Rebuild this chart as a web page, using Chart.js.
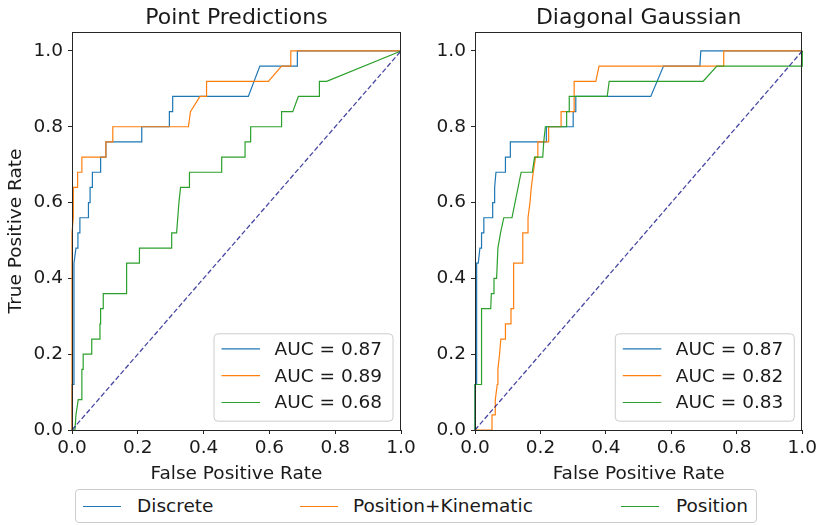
<!DOCTYPE html>
<html>
<head>
<meta charset="utf-8">
<script src="https://cdn.jsdelivr.net/npm/chart.js@4.4.0/dist/chart.umd.min.js"></script>
<style>
  html, body { margin: 0; padding: 0; background: #fff; }
  body { width: 820px; height: 525px; overflow: hidden; position: relative; font-family: "DejaVu Sans", sans-serif; }
  #c1 { position: absolute; left: 0; top: 0; }
  #c2 { position: absolute; left: 410px; top: 0; }
  #legend { position: absolute; left: 75px; top: 489px; width: 682px; height: 34px; box-sizing: border-box;
            border: 1px solid #cccccc; border-radius: 4px; background: rgba(255,255,255,0.8); }
  .item { position: absolute; top: 0; height: 32px; line-height: 32px; font-size: 18.5px; color: #1a1a1a; white-space: nowrap; }
  .swatch { position: absolute; height: 1.2px; top: 16px; }
</style>
</head>
<body>
<canvas id="c1" width="420" height="487"></canvas>
<canvas id="c2" width="410" height="487"></canvas>
<div id="legend"></div>
<script>
// ---------------- data ----------------
const seriesNames = ['Discrete', 'Position+Kinematic', 'Position'];
const panelTitles = ['Point Predictions', 'Diagonal Gaussian'];
const xTickValues = [0, 0.2, 0.4, 0.6, 0.8, 1.0];
const yTickValues = [0, 0.2, 0.4, 0.6, 0.8, 1.0];
const ppAucLabels = ['AUC = 0.87', 'AUC = 0.89', 'AUC = 0.68'];
const dgAucLabels = ['AUC = 0.87', 'AUC = 0.82', 'AUC = 0.83'];
const chanceFpr = [0, 1];
const chanceTpr = [0, 1];

// Point Predictions
const ppDiscreteFpr = [0,0,0.006,0.006,0.012,0.018,0.018,0.024,0.024,0.05,0.05,0.055,0.055,0.062,0.062,0.087,0.087,0.103,0.103,0.212,0.212,0.296,0.296,0.306,0.306,0.536,0.571,0.685,0.685,1];
const ppDiscreteTpr = [0,0.12,0.12,0.44,0.48,0.48,0.52,0.52,0.56,0.56,0.60,0.60,0.64,0.64,0.68,0.68,0.72,0.72,0.76,0.76,0.80,0.80,0.84,0.84,0.88,0.88,0.96,0.96,1,1];
const ppPosKinFpr = [0,0,0.004,0.004,0.017,0.017,0.03,0.03,0.103,0.103,0.124,0.124,0.354,0.36,0.389,0.409,0.409,0.597,0.637,0.665,0.665,1];
const ppPosKinTpr = [0,0.52,0.56,0.64,0.64,0.68,0.68,0.72,0.72,0.76,0.76,0.80,0.80,0.84,0.88,0.88,0.92,0.92,0.96,0.96,1,1];
const ppPositionFpr = [0,0.009,0.012,0.019,0.03,0.03,0.034,0.034,0.06,0.06,0.085,0.085,0.087,0.087,0.095,0.095,0.166,0.166,0.205,0.205,0.303,0.303,0.318,0.325,0.33,0.357,0.357,0.455,0.455,0.526,0.526,0.543,0.543,0.637,0.637,0.671,0.688,0.752,0.752,0.774,1];
const ppPositionTpr = [0,0,0.04,0.08,0.08,0.16,0.16,0.20,0.20,0.24,0.24,0.28,0.28,0.32,0.32,0.36,0.36,0.44,0.44,0.48,0.48,0.52,0.52,0.60,0.64,0.64,0.68,0.68,0.72,0.72,0.76,0.76,0.80,0.80,0.84,0.84,0.88,0.88,0.92,0.92,1];

// Diagonal Gaussian
const dgDiscreteFpr = [0,0,0.005,0.005,0.01,0.015,0.02,0.02,0.027,0.027,0.054,0.054,0.06,0.06,0.064,0.093,0.093,0.108,0.108,0.218,0.218,0.30,0.30,0.308,0.308,0.537,0.576,0.687,0.69,1];
const dgDiscreteTpr = [0,0.12,0.12,0.44,0.44,0.48,0.48,0.52,0.52,0.56,0.56,0.60,0.60,0.64,0.68,0.68,0.72,0.72,0.76,0.76,0.80,0.80,0.84,0.84,0.88,0.88,0.96,0.96,1,1];
const dgPosKinFpr = [0,0.052,0.052,0.062,0.062,0.068,0.07,0.075,0.079,0.093,0.093,0.11,0.11,0.118,0.118,0.146,0.146,0.162,0.162,0.168,0.172,0.178,0.185,0.192,0.192,0.225,0.225,0.263,0.263,0.303,0.303,0.369,0.379,0.76,0.76,1];
const dgPosKinTpr = [0,0,0.04,0.04,0.08,0.12,0.16,0.20,0.24,0.24,0.28,0.28,0.32,0.32,0.44,0.44,0.52,0.52,0.56,0.60,0.64,0.68,0.72,0.72,0.76,0.76,0.80,0.80,0.84,0.84,0.92,0.92,0.96,0.96,1,1];
const dgPositionFpr = [0,0,0.02,0.02,0.048,0.05,0.058,0.058,0.066,0.07,0.078,0.088,0.113,0.141,0.175,0.182,0.207,0.21,0.215,0.28,0.28,0.288,0.288,0.404,0.41,0.697,0.739,1,1];
const dgPositionTpr = [0,0.12,0.12,0.32,0.32,0.36,0.36,0.40,0.40,0.48,0.52,0.56,0.56,0.68,0.68,0.72,0.72,0.76,0.80,0.80,0.84,0.84,0.88,0.88,0.92,0.92,0.96,0.96,1];

// ---------------- styling ----------------
const FONT = '"DejaVu Sans", sans-serif';
const TEXT = '#1a1a1a';
const seriesColors = ['#1f77b4', '#ff7f0e', '#2ca02c'];
const chanceColor = 'rgba(0,0,128,0.72)';

function pts(xs, ys) { return xs.map((x, i) => ({ x: x, y: ys[i] })); }

const framePlugin = {
  id: 'frame',
  afterDatasetsDraw(chart) {
    const a = chart.chartArea, ctx = chart.ctx;
    ctx.save();
    ctx.strokeStyle = '#262626';
    ctx.lineWidth = 1;
    ctx.strokeRect(Math.round(a.left) + 0.5, Math.round(a.top) + 0.5, Math.round(a.right - a.left) - 1, Math.round(a.bottom - a.top));
    ctx.restore();
  }
};

const aucLegendPlugin = {
  id: 'aucLegend',
  afterDraw(chart, args, opts) {
    const a = chart.chartArea, ctx = chart.ctx;
    const w = 179, h = 87.4;
    const left = a.right - 8.5 - w, top = a.bottom - 9.3 - h;
    ctx.save();
    ctx.beginPath();
    if (ctx.roundRect) ctx.roundRect(left + 0.5, top + 0.5, w, h, 4); else ctx.rect(left + 0.5, top + 0.5, w, h);
    ctx.fillStyle = 'rgba(255,255,255,0.8)';
    ctx.fill();
    ctx.strokeStyle = '#cccccc';
    ctx.lineWidth = 1;
    ctx.stroke();
    ctx.font = '18.5px ' + FONT;
    ctx.textBaseline = 'middle';
    ctx.fillStyle = TEXT;
    opts.labels.forEach((lab, i) => {
      const cy = top + 15.6 + i * 26.8;
      ctx.beginPath();
      ctx.strokeStyle = opts.colors[i];
      ctx.lineWidth = 1.2;
      ctx.moveTo(left + 8, cy);
      ctx.lineTo(left + 46.5, cy);
      ctx.stroke();
      ctx.fillText(lab, left + 61, cy + 1);
    });
    ctx.restore();
  }
};

function makeChart(canvasId, title, series, aucLabels, showYTitle, yWidth, rightPad) {
  const datasets = series.map((s, i) => ({
    label: seriesNames[i],
    data: pts(s[0], s[1]),
    borderColor: seriesColors[i],
    borderWidth: 1.2,
    pointRadius: 0,
    showLine: true,
    tension: 0,
    fill: false,
    clip: false,
    order: 5 - i
  }));
  datasets.push({
    label: 'chance',
    data: pts(chanceFpr, chanceTpr),
    borderColor: chanceColor,
    borderWidth: 1.3,
    borderDash: [5, 2.4],
    pointRadius: 0,
    showLine: true,
    fill: false,
    clip: false,
    order: 0
  });
  return new Chart(document.getElementById(canvasId), {
    type: 'scatter',
    data: { datasets: datasets },
    options: {
      responsive: false,
      animation: false,
      devicePixelRatio: 1,
      layout: { padding: { left: 0, right: rightPad, top: 0, bottom: 0 } },
      plugins: {
        legend: { display: false },
        tooltip: { enabled: false },
        title: {
          display: true, text: title, color: TEXT, fullSize: false,
          font: { family: FONT, size: 22, weight: 'normal', lineHeight: 1.2 },
          padding: { top: 4.6, bottom: 1 }
        },
        aucLegend: { labels: aucLabels, colors: seriesColors }
      },
      scales: {
        x: {
          type: 'linear', min: 0, max: 1,
          afterBuildTicks: s => { s.ticks = xTickValues.map(v => ({ value: v })); },
          afterFit: s => { s.height = 57; },
          border: { display: false },
          grid: { display: true, drawOnChartArea: false, drawTicks: true, tickLength: 4, color: '#262626', lineWidth: 1 },
          ticks: { color: TEXT, font: { family: FONT, size: 18.5 }, padding: 3, maxRotation: 0,
                   callback: v => Number(v).toFixed(1) },
          title: { display: true, text: 'False Positive Rate', color: TEXT,
                   font: { family: FONT, size: 18.5 }, padding: { top: 0, bottom: 2 } }
        },
        y: {
          type: 'linear', min: 0, max: 1.05,
          afterBuildTicks: s => { s.ticks = yTickValues.map(v => ({ value: v })); },
          afterFit: s => { s.width = yWidth; },
          border: { display: false },
          grid: { display: true, drawOnChartArea: false, drawTicks: true, tickLength: 4, color: '#262626', lineWidth: 1 },
          ticks: { color: TEXT, font: { family: FONT, size: 18.5 }, padding: 5,
                   callback: v => Number(v).toFixed(1) },
          title: { display: showYTitle, text: 'True Positive Rate', color: TEXT,
                   font: { family: FONT, size: 18.5 }, padding: { top: 5, bottom: 0 } }
        }
      }
    },
    plugins: [framePlugin, aucLegendPlugin]
  });
}

makeChart('c1', panelTitles[0], [
  [ppDiscreteFpr, ppDiscreteTpr],
  [ppPosKinFpr, ppPosKinTpr],
  [ppPositionFpr, ppPositionTpr]
], ppAucLabels, true, 72, 19);

makeChart('c2', panelTitles[1], [
  [dgDiscreteFpr, dgDiscreteTpr],
  [dgPosKinFpr, dgPosKinTpr],
  [dgPositionFpr, dgPositionTpr]
], dgAucLabels, false, 65, 15);

// shared legend (HTML)
const legendLayout = [
  { line: 7, text: 61 },
  { line: 224, text: 277 },
  { line: 545, text: 600 }
];
const lg = document.getElementById('legend');
seriesNames.forEach((n, i) => {
  const sw = document.createElement('div');
  sw.className = 'swatch';
  sw.style.left = legendLayout[i].line + 'px';
  sw.style.width = '38px';
  sw.style.background = seriesColors[i];
  lg.appendChild(sw);
  const t = document.createElement('div');
  t.className = 'item';
  t.style.left = legendLayout[i].text + 'px';
  t.textContent = n;
  lg.appendChild(t);
});
</script>
</body>
</html>
